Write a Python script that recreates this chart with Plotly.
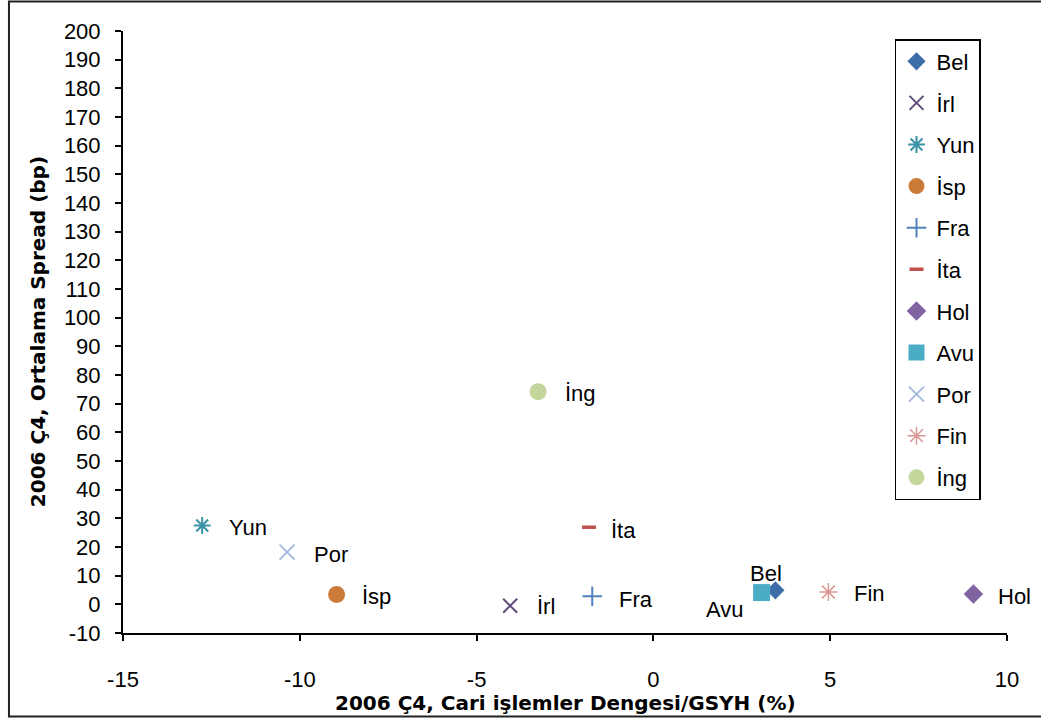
import plotly.graph_objects as go

# ---- data ----
countries = ["Bel", "İrl", "Yun", "İsp", "Fra", "İta", "Hol", "Avu", "Por", "Fin", "İng"]
current_account = [3.45, -4.05, -12.76, -8.96, -1.73, -1.82, 9.05, 3.06, -10.36, 4.95, -3.26]
spread_bp = [4.9, -0.5, 27.5, 3.4, 2.8, 26.9, 3.6, 4.1, 18.2, 4.3, 74.2]
x_ticks = [-15, -10, -5, 0, 5, 10]
x_tick_labels = ["-15", "-10", "-5", "0", "5", "10"]
y_ticks = list(range(-10, 201, 10))
y_tick_labels = [str(v) for v in y_ticks]
x_title = "2006 Ç4, Cari işlemler Dengesi/GSYH (%)"
y_title = "2006 Ç4, Ortalama Spread (bp)"

# ---- styles ----
styles = {
    "Bel": dict(symbol="diamond", size=14, color="#3D6DA8", lw=0),
    "İrl": dict(symbol="x-thin", size=14, color="#604A7B", lw=2),
    "Yun": dict(symbol="asterisk", size=14, color="#3C92A8", lw=2),
    "İsp": dict(symbol="circle", size=17, color="#CC7A38", lw=0),
    "Fra": dict(symbol="cross-thin", size=14, color="#4F81BD", lw=2),
    "İta": dict(symbol="line-ew", size=10, color="#C0504D", lw=3.5),
    "Hol": dict(symbol="diamond", size=15, color="#8064A2", lw=0),
    "Avu": dict(symbol="square", size=17, color="#4BACC6", lw=0),
    "Por": dict(symbol="x-thin", size=15, color="#A5B9DC", lw=2),
    "Fin": dict(symbol="asterisk", size=15, color="#D99694", lw=1.5),
    "İng": dict(symbol="circle", size=17, color="#C3D69B", lw=0),
}
# label placement (pixel offsets, anchor)
label_pos = {
    "Bel": (-9, 17, "center"),
    "İrl": (25, -1, "left"),
    "Yun": (25, -2, "left"),
    "İsp": (23, -2, "left"),
    "Fra": (25, -3, "left"),
    "İta": (20, -3, "left"),
    "Hol": (23, -2, "left"),
    "Avu": (-37, -17, "center"),
    "Por": (25, -2, "left"),
    "Fin": (24, -1, "left"),
    "İng": (25, -2, "left"),
}

FONT = "Liberation Sans, Arial, sans-serif"
TFONT = "DejaVu Sans, sans-serif"
fig = go.Figure()
for i, c in enumerate(countries):
    s = styles[c]
    fig.add_trace(go.Scatter(
        x=[current_account[i]], y=[spread_bp[i]], mode="markers", name=c,
        legendgroup=c,
        marker=dict(symbol=s["symbol"], size=s["size"], color=s["color"],
                    line=dict(color=s["color"], width=s["lw"])),
        cliponaxis=False,
    ))

annotations = []
for i, c in enumerate(countries):
    dx, dy, anc = label_pos[c]
    annotations.append(dict(
        x=current_account[i], y=spread_bp[i], xref="x", yref="y", text=c,
        showarrow=False, xanchor=anc, yanchor="middle", xshift=dx, yshift=dy,
        font=dict(family=FONT, size=22, color="black"),
    ))

annotations.append(dict(
    x=-0.096, y=0.5, xref="paper", yref="paper",
    text="<b>" + y_title + "</b>", showarrow=False,
    textangle=-90, xanchor="center", yanchor="middle",
    font=dict(family=TFONT, size=20, color="black"),
))
annotations.append(dict(
    x=0.5, y=-0.117, xref="paper", yref="paper",
    text="<b>" + x_title + "</b>", showarrow=False,
    xanchor="center", yanchor="middle",
    font=dict(family=TFONT, size=20, color="black"),
))

fig.update_layout(
    width=1041, height=719,
    margin=dict(l=123, r=34, t=31, b=86),
    paper_bgcolor="white", plot_bgcolor="white",
    font=dict(family=FONT, size=22, color="black"),
    showlegend=True,
    legend=dict(x=0.8733, y=0.9867, xanchor="left", yanchor="top",
                bordercolor="black", borderwidth=1.5, bgcolor="white",
                font=dict(family=FONT, size=22, color="black"),
                tracegroupgap=10, itemwidth=30,
                entrywidth=52, entrywidthmode="pixels"),
    annotations=annotations,
    shapes=[dict(type="rect", xref="paper", yref="paper",
                 x0=-0.129, x1=1.06, y0=-0.1385, y1=1.049,
                 line=dict(color="#222222", width=2), layer="below")],
)
fig.update_xaxes(range=[-15, 10], tickvals=x_ticks, ticktext=x_tick_labels,
                 ticks="outside", ticklen=6,
                 tickwidth=1.5, tickcolor="black", showline=True, linecolor="black",
                 linewidth=2, showgrid=False, zeroline=False,
                 ticklabelstandoff=20,
                 tickfont=dict(family=FONT, size=22, color="black"))
fig.update_yaxes(range=[-10, 200], tickvals=y_ticks, ticktext=y_tick_labels,
                 ticks="outside", ticklen=6,
                 tickwidth=1.5, tickcolor="black", showline=True, linecolor="black",
                 linewidth=2, showgrid=False, zeroline=False,
                 ticklabelstandoff=10,
                 tickfont=dict(family=FONT, size=22, color="black"))

fig.write_html("out.html")
